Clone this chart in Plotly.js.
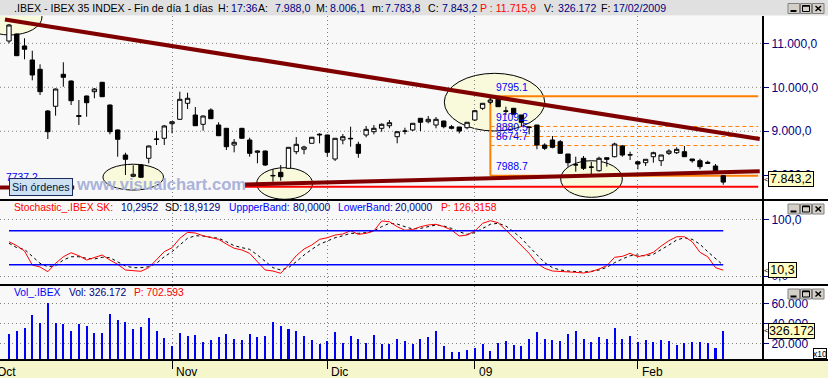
<!DOCTYPE html>
<html><head><meta charset="utf-8">
<script src="https://cdn.plot.ly/plotly-3.0.1.min.js"></script>
<style>html,body{margin:0;padding:0;background:#fff;}#chart{width:828px;height:378px;}</style>
</head><body><div id="chart"></div>
<script>
// ---------- DATA ----------
// daily bars, .IBEX, 3 Oct 2008 .. 17 Feb 2009 (trading-day index on the x axis)
const open  = [11053,11213,10940,10621,10410,9461,9568,10296,10143,9358,9802,9900,10114,9597,9029,8460,7975,8232,8385,8812,8840,9172,9272,9636,9370,9158,9484,9142,9067,8687,9067,8801,8521,8551,7995,8066,8157,8535,8590,8726,8915,8915,8369,8801,8840,8703,8915,8990,9067,9126,8876,9000,9029,9295,9217,9142,9233,9104,9097,9081,9256,9522,9659,9727,9454,9522,9370,9097,9142,8687,8801,8762,8483,8233,8385,8180,8103,8398,8421,8665,8460,8307,8285,8421,8330,8498,8512,8535,8369,8330,8294,8210,7988.0];
const high  = [11440,11224,11115,10833,10523,9484,9973,10569,10155,9711,9813,9984,10121,9609,9040,8512,8226,8255,8676,9006,9142,9222,9900,9877,9552,9358,9522,9204,9075,8824,9075,8853,8560,8560,8141,8232,8635,8869,8671,8863,8953,8920,8840,8938,9104,8762,9120,9142,9180,9256,8990,9081,9181,9300,9347,9324,9240,9142,9100,9204,9484,9636,9795.1,9790,9559,9530,9370,9097,9142,8726,8892,8801,8483,8421,8437,8307,8421,8398,8740,8687,8535,8307,8362,8535,8460,8589,8635,8665,8369,8376,8330,8255,8006.1];
const low   = [11001,10712,10637,10159,9825,8824,9354,10014,9597,9142,9331,9750,9779,8931,8421,8005,7953,7937,8271,8687,8687,8953,9256,9506,9120,9013,9280,8890,8574,8521,8830,8421,8271,8210,7852,7875,8157,8476,8476,8726,8726,8421,8323,8703,8649,8398,8863,8931,8990,9067,8726,8931,9006,9006,9181,9067,9067,9044,8953,9044,9233,9484,9613,9559,9370,9380,9104,8931,8590,8574,8612,8498,8194,8080,8119,7982,8080,8194,8407,8421,8346,8135,8210,8285,8210,8460,8483,8421,8285,8135,8255,8080,7783.8];
const close = [11417,10719,10865,10280,9900,8990,9961,10228,9695,9336,9650,9961,9786,8990,8817,8362,8021,7953,8665,8824,9120,9217,9727,9750,9126,9347,9286,8899,8649,8749,8840,8498,8551,8232,7988,7966,8635,8703,8642,8863,8930,8521,8840,8876,8830,8498,9044,9067,9158,9195,8990,9006,9181,9204,9272,9272,9104,9067,9006,9204,9468,9636,9711,9559,9460,9386,9204,9090,8687,8612,8635,8498,8285,8238,8157,8185,8385,8362,8710,8460,8465,8255,8362,8512,8460,8551,8589,8421,8330,8194,8271,8096,7843.2];
// stochastic %K (SK) and %D (SD)
const stochK = [60.5,53.5,44,19.4,15.9,7.6,22.4,34,41,35.8,28.2,32.3,37,28.2,20.6,10.6,10,8.3,14.7,28.2,42.9,49.9,66.5,77,75.8,71,67.5,64.7,56.4,48.9,45.9,40,25.2,10.6,8.8,4.8,19.4,35.8,47.6,54.7,64.7,67.5,72.3,74.1,79.9,73.5,75.3,79.4,97,95.8,87,80.6,82,87,90,91.2,87,81.1,70.5,72.3,79.4,92.9,97.5,94,81.1,67.5,54.7,40,22.4,13.6,8.8,8.3,7,6.5,5.3,7.6,12.3,18.2,33,34.7,40,34,37,41.8,52.9,62.3,69.3,69.3,60.5,41.8,34,14.7,10.3];
const stochD = [57.7,50,47,34,22.4,16.4,18.2,28.2,34,34,31.2,30,33,32.3,25.2,17.6,14.7,14.7,16.4,22.4,34,42.9,54.7,66.5,71,70.5,68.3,66.5,60.5,53.4,50,47,37,25.2,14.7,10.6,14.7,25.2,37,47,56,61.7,67.5,71,75.3,75.3,76.5,79.4,87,93,91.7,87,82.9,84,87,90,88.2,84,78,73.5,76.5,84,91.2,93,88.2,78,66.5,51.7,37,23.5,14.7,10.6,8.8,7.6,7,8.3,10.6,15.3,23.5,30,35.8,37,35.3,38.3,45.9,54.7,63.5,67.5,64.7,56,42.9,31.2,18.9];
// volume in axis units (x10)
const volumeX10 = [29300,32300,35300,48300,40000,60600,40000,39300,32300,39300,37300,30600,30600,49300,43300,41300,34300,36300,45300,32300,25300,17300,30600,27300,28300,21300,23300,26300,29300,24300,23300,29300,26300,27300,41300,37300,34300,32300,27300,23300,19300,22600,31300,20300,27300,24300,20300,28300,19300,19300,24300,22300,19600,24300,26300,32300,17300,11300,11300,13300,15000,19300,12300,20300,22300,18300,17300,24300,31300,24300,23300,22300,29300,32300,24300,21300,26300,24300,35300,24300,27300,21300,23300,21300,23300,22300,18300,20300,21300,21300,20300,15300,32617];

const monthTickIdx  = [-2, 21, 41, 60, 81];
const monthTickText = ['Oct','Nov','Dic','09','Feb'];
const priceTickVals = [8000, 9000, 10000, 11000];
const priceTickText = ['8.000,0','9.000,0','10.000,0','11.000,0'];
const priceGridVals = [9000, 10000, 11000];
const stochTickVals = [0, 100];
const stochTickText = ['0,0','100,0'];
const volTickVals = [20000, 40000, 60000];
const volTickText = ['20.000','40.000','60.000'];
const upperBand = 80, lowerBand = 20;

// drawing objects on the price panel
const fibHigh = 9795.1, fibLow = 7988.7;
const fibLevels = [9109.2, 8880.5, 8674.7];
const fibLabels = ['9795.1','9109.2','8880.5','8674.7','7988.7'];
const fibStartIdx = 62, fibEndIdx = 96.5;
const resistanceX = [-0.52, 96.7], resistanceY = [11542, 8824];
const supportX = [30.4, 96.7], supportY = [7789, 8089];
const stopLevel = 7737.2, stopX = [30.4, 96.5];
const leftStubX = [-1.2, 8.4], leftStubY = 7720;
const ellipses = [
  [-4.0, 4.25, 11190, 12009],
  [12.1, 19.9, 7663, 8250],
  [31.9, 39.1, 7452, 8171],
  [56.07, 69.0, 9006, 10318],
  [71.06, 79.0, 7497, 8330]
];

const headerFields = [
  [13.3, '.IBEX - IBEX 35 INDEX - Fin de día 1 días', '#000000'],
  [217, 'H:', '#000000'], [230, '17:36', '#000080'],
  [257, 'A:', '#000000'], [273.5, '7.988,0', '#000080'],
  [315, 'M:', '#000000'], [329, '8.006,1', '#000080'],
  [371, 'm:', '#000000'], [384, '7.783,8', '#000080'],
  [427, 'C:', '#000000'], [440.5, '7.843,2', '#000080'],
  [479, 'P : 11.715,9', '#ff0000'],
  [543, 'V:', '#000000'], [557, '326.172', '#000080'],
  [600, 'F:', '#000000'], [612, '17/02/2009', '#000080']
];
const stochFields = [
  [13.3, 'Stochastic_.IBEX SK:', '#ff0000'], [120, '10,2952', '#000080'],
  [164, 'SD:', '#000000'], [182, '18,9129', '#000080'],
  [228, 'UppperBand:', '#0000ff'], [292, '80,0000', '#000080'],
  [337, 'LowerBand:', '#0000ff'], [393.5, '20,0000', '#000080'],
  [440, 'P: 126,3158', '#ff0000']
];
const volFields = [
  [13.3, 'Vol_.IBEX', '#0000ff'], [67.7, 'Vol: 326.172', '#000080'], [133, 'P: 702.593', '#ff0000']
];

// ---------- LAYOUT HELPERS ----------
const W = 828, H = 378, ML = 0, MR = 66, MT = 16, MB = 18;
const PW = W - ML - MR, PH = H - MT - MB;
const px = x => (x - ML) / PW;
const py = y => (H - MB - y) / PH;
const xRange = [-1.159, 96.99];
const idxToPaper = i => (i - xRange[0]) / (xRange[1] - xRange[0]);
const FONT = 'Liberation Sans, Arial, sans-serif';
const barIdx = open.map((_, i) => i);
const lastIdx = barIdx[barIdx.length - 1];

const traces = [
  {type:'candlestick', x:barIdx, open, high, low, close, xaxis:'x', yaxis:'y',
   increasing:{line:{color:'#000', width:1}, fillcolor:'#ffffff'},
   decreasing:{line:{color:'#000', width:1}, fillcolor:'#000000'},
   whiskerwidth:0, hoverinfo:'skip', showlegend:false},
  {type:'scatter', mode:'lines', x:barIdx, y:stochD, xaxis:'x', yaxis:'y2',
   line:{color:'#000000', width:1, dash:'3px,3px'}, hoverinfo:'skip'},
  {type:'scatter', mode:'lines', x:barIdx, y:stochK, xaxis:'x', yaxis:'y2',
   line:{color:'#ff0000', width:1}, hoverinfo:'skip'},
  {type:'bar', x:barIdx, y:volumeX10, xaxis:'x', yaxis:'y3', width:0.26,
   marker:{color:'#0000ff', line:{width:0}}, hoverinfo:'skip'}
];

const dotted = '1px,3px';
const shapes = [];
shapes.push({type:'rect', xref:'paper', yref:'paper', x0:px(0), x1:px(W), y0:py(15.5), y1:py(0), fillcolor:'#e0e0e0', line:{width:0}, layer:'below'});
shapes.push({type:'rect', xref:'paper', yref:'paper', x0:px(0), x1:px(W), y0:py(H), y1:py(361), fillcolor:'#f6f6cc', line:{width:0}, layer:'below'});
ellipses.forEach(e => shapes.push({type:'circle', xref:'x', yref:'y', x0:e[0], x1:e[1], y0:e[2], y1:e[3],
  fillcolor:'#f9f9dc', line:{color:'#000', width:1}, layer:'below'}));
priceGridVals.forEach(v => shapes.push({type:'line', xref:'paper', yref:'y', x0:0, x1:1, y0:v, y1:v,
  line:{color:'#808080', width:1, dash:dotted}, layer:'below'}));
shapes.push({type:'line', xref:'x', yref:'y', x0:fibStartIdx, x1:fibEndIdx, y0:fibHigh, y1:fibHigh, line:{color:'#ff8000', width:2}, layer:'below'});
shapes.push({type:'line', xref:'x', yref:'y', x0:fibStartIdx, x1:fibEndIdx, y0:fibLow, y1:fibLow, line:{color:'#ff8000', width:2}, layer:'below'});
shapes.push({type:'line', xref:'x', yref:'y', x0:fibStartIdx, x1:fibStartIdx, y0:fibLow, y1:fibHigh, line:{color:'#ff8000', width:2}, layer:'below'});
fibLevels.forEach(v => shapes.push({type:'line', xref:'x', yref:'y', x0:fibStartIdx, x1:fibEndIdx, y0:v, y1:v,
  line:{color:'#ff8000', width:1, dash:'4px,3px'}, layer:'below'}));
shapes.push({type:'line', xref:'x', yref:'y', x0:stopX[0], x1:stopX[1], y0:stopLevel, y1:stopLevel, line:{color:'#ff0000', width:2}, layer:'above'});
shapes.push({type:'line', xref:'x', yref:'y', x0:leftStubX[0], x1:leftStubX[1], y0:leftStubY, y1:leftStubY, line:{color:'#800000', width:4}, layer:'above'});
shapes.push({type:'line', xref:'x', yref:'y', x0:supportX[0], x1:supportX[1], y0:supportY[0], y1:supportY[1], line:{color:'#800000', width:4}, layer:'above'});
shapes.push({type:'line', xref:'x', yref:'y', x0:resistanceX[0], x1:resistanceX[1], y0:resistanceY[0], y1:resistanceY[1], line:{color:'#800000', width:4.2}, layer:'above'});
[upperBand, lowerBand].forEach(v => shapes.push({type:'line', xref:'x', yref:'y2', x0:barIdx[0], x1:lastIdx, y0:v, y1:v,
  line:{color:'#0000ff', width:1.5}, layer:'above'}));
[200, 285, 360].forEach(y => shapes.push({type:'line', xref:'paper', yref:'paper', x0:px(0), x1:px(W), y0:py(y), y1:py(y),
  line:{color:'#000', width:2}, layer:'above'}));
function winButtons(top) {
  const b = [[788, 799.5], [800.5, 811.5], [812.5, 824]];
  const y0 = top, y1 = top + 10;
  b.forEach(r => shapes.push({type:'rect', xref:'paper', yref:'paper', x0:px(r[0]), x1:px(r[1]), y0:py(y1), y1:py(y0),
    fillcolor:'#d4d0c8', line:{color:'#808080', width:1}, layer:'above'}));
  shapes.push({type:'line', xref:'paper', yref:'paper', x0:px(790.5), x1:px(796.5), y0:py(y1-2.5), y1:py(y1-2.5), line:{color:'#000', width:2}, layer:'above'});
  shapes.push({type:'rect', xref:'paper', yref:'paper', x0:px(802.5), x1:px(809.5), y0:py(y1-2), y1:py(y0+2), line:{color:'#000', width:1}, layer:'above'});
  shapes.push({type:'line', xref:'paper', yref:'paper', x0:px(802.5), x1:px(809.5), y0:py(y0+2.5), y1:py(y0+2.5), line:{color:'#000', width:1.5}, layer:'above'});
  shapes.push({type:'line', xref:'paper', yref:'paper', x0:px(815.5), x1:px(821), y0:py(y0+2.5), y1:py(y1-2.5), line:{color:'#000', width:1.5}, layer:'above'});
  shapes.push({type:'line', xref:'paper', yref:'paper', x0:px(815.5), x1:px(821), y0:py(y1-2.5), y1:py(y0+2.5), line:{color:'#000', width:1.5}, layer:'above'});
}
winButtons(3.5); winButtons(204); winButtons(289);

// ---------- ANNOTATIONS ----------
const ann = [];
function txt(x, y, text, color, size, extra) {
  return Object.assign({xref:'paper', yref:'paper', x:px(x), y:py(y), xanchor:'left', yanchor:'middle',
    text:text, showarrow:false, borderpad:0, font:{family:FONT, size:size, color:color}}, extra || {});
}
headerFields.forEach(f => ann.push(txt(f[0], 8, f[1], f[2], 10.6)));
stochFields.forEach(f => ann.push(txt(f[0], 207.7, f[1], f[2], 10.3)));
volFields.forEach(f => ann.push(txt(f[0], 292.7, f[1], f[2], 10.3)));
[fibHigh].concat(fibLevels).concat([fibLow]).forEach((v, k) => ann.push({xref:'x', yref:'y', x:fibStartIdx, y:v,
  xanchor:'left', yanchor:'middle', xshift:5, yshift:9, text:fibLabels[k], showarrow:false, borderpad:0,
  font:{family:FONT, size:10.4, color:'#0000ff'}}));
ann.push(txt(5, 177, '7737.2', '#0000ff', 10.4));
ann.push(txt(9, 187, 'Sin órdenes', '#00203a', 10.8, {bgcolor:'#cde1f3', bordercolor:'#1a2a5a', borderwidth:1, borderpad:2}));
ann.push(txt(75, 184.5, '<b>www.visualchart.com</b>', '#aab3da', 16.6));
function valBox(y, text, w) {
  ann.push(txt(762.5, y, '<', '#000', 8));
  ann.push(txt(768, y, text, '#000', 12.5, {bgcolor:'#ffffc4', bordercolor:'#000', borderwidth:1, width:w, height:14, align:'center'}));
}
valBox(179.5, '7.843,2', 44);
valBox(270, '10,3', 27);
valBox(330.8, '326.172', 45);
ann.push(txt(813, 353.5, 'x10', '#000', 8.5, {bgcolor:'#ffffff', bordercolor:'#000', borderwidth:1, width:12, height:9, align:'center'}));
monthTickIdx.forEach((v, k) => ann.push({xref:'paper', yref:'paper', x:idxToPaper(v), y:py(372), xanchor:'left', yanchor:'middle',
  xshift:3, text:monthTickText[k], showarrow:false, borderpad:0, font:{family:FONT, size:12, color:'#000'}}));

const yCommon = {side:'right', anchor:'x', ticks:'outside', ticklen:5, tickwidth:1, tickcolor:'#000080',
  tickfont:{family:FONT, size:12, color:'#000080'}, zeroline:false, showline:true, linecolor:'#000', linewidth:2,
  fixedrange:true, gridcolor:'#808080', griddash:dotted, gridwidth:1};

const layout = {
  width:W, height:H, margin:{l:ML, r:MR, t:MT, b:MB, pad:0},
  paper_bgcolor:'#ffffff', plot_bgcolor:'#f8f8f8', showlegend:false, boxgap:0.2, bargap:0,
  font:{family:FONT, size:11, color:'#000'},
  xaxis:{range:xRange, anchor:'y3', tickvals:monthTickIdx, ticktext:monthTickText, showticklabels:false,
    ticks:'outside', ticklen:8, tickcolor:'#000', tickwidth:1, showgrid:true, gridcolor:'#808080', griddash:dotted,
    gridwidth:1, zeroline:false, showline:false, rangeslider:{visible:false}, fixedrange:true},
  yaxis:Object.assign({}, yCommon, {domain:[py(199), 1], range:[7459, 11622], tickvals:priceTickVals, ticktext:priceTickText, showgrid:false}),
  yaxis2:Object.assign({}, yCommon, {domain:[py(284), py(201)], range:[-14.1, 132.3], tickvals:stochTickVals, ticktext:stochTickText, showgrid:true}),
  yaxis3:Object.assign({}, yCommon, {domain:[0, py(286)], range:[3300, 77300], tickvals:volTickVals, ticktext:volTickText, showgrid:true}),
  shapes:shapes, annotations:ann
};

Plotly.newPlot('chart', traces, layout, {displayModeBar:false, staticPlot:true});
</script></body></html>
